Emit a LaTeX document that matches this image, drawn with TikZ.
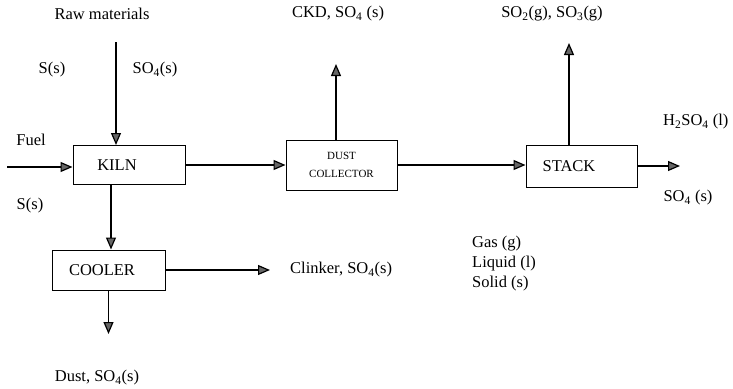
\documentclass[tikz,border=0pt]{standalone}
\usepackage{fontspec}
\setmainfont{Liberation Serif}
\usetikzlibrary{arrows.meta}
\begin{document}
\begin{tikzpicture}[x=1pt,y=-1pt,
  lbl/.style={font=\fontsize{16.5}{20}\selectfont, inner sep=0},
  unit/.style={draw, line width=1pt, inner sep=0, font=\fontsize{16.5}{20}\selectfont},
  flow/.style={line width=1.2pt, -{Triangle[length=12pt,width=10pt,fill=black!60]}}]
\useasboundingbox (0,0) rectangle (733,388);
% units
\node[unit, minimum width=112, minimum height=39, label={[lbl,xshift=-12]center:KILN}] (kiln) at (129,165) {};
\node[unit, minimum width=113, minimum height=40, label={[lbl,xshift=-6.5]center:COOLER}] (cooler) at (108.5,270) {};
\node[unit, minimum width=111, minimum height=50, align=center, font=\fontsize{11}{18}\selectfont] (dc) at (341.5,165) {DUST\\COLLECTOR};
\node[unit, minimum width=111, minimum height=42, label={[lbl,xshift=-12.5]center:STACK}] (stack) at (581.5,166) {};
% labels
\node[lbl] (raw) at (102,14) {Raw materials};
\node[lbl] (s1) at (52,70) {S(s)};
\node[lbl] (so4a) at (155,70) {SO\textsubscript{4}(s)};
\node[lbl] (fuel) at (31,140) {Fuel};
\node[lbl] (s2) at (30,206) {S(s)};
\node[lbl] (ckd) at (338,14) {CKD, SO\textsubscript{4} (s)};
\node[lbl] (so2) at (552,14) {SO\textsubscript{2}(g), SO\textsubscript{3}(g)};
\node[lbl, anchor=west] (h2so4) at (663,122) {H\textsubscript{2}SO\textsubscript{4} (l)};
\node[lbl] (so4s) at (688,198) {SO\textsubscript{4} (s)};
\node[lbl, anchor=west] (clinker) at (290,270) {Clinker, SO\textsubscript{4}(s)};
\node[lbl, anchor=west, align=left] (phases) at (472,264) {Gas (g)\\Liquid (l)\\Solid (s)};
\node[lbl] (dust) at (97,378) {Dust, SO\textsubscript{4}(s)};
% free ends
\coordinate (rawin) at (116,42);
\coordinate (fuelin) at (7,167);
\coordinate (clinkend) at (270,270);
\coordinate (dustend) at (108.5,334);
\coordinate (ckdend) at (336,64);
\coordinate (stkup) at (569,43);
\coordinate (stkout) at (680,166);
% connectors
\draw[flow] (rawin) -- (rawin |- kiln.north);
\draw[flow] (fuelin) -- (fuelin -| kiln.west);
\draw[flow] ([xshift=-18]kiln.south) -- ([xshift=-18]kiln.south |- cooler.north);
\draw[flow] (cooler.east) -- (clinkend);
\draw[flow] (cooler.south) -- (dustend);
\draw[flow] (kiln.east) -- (kiln.east -| dc.west);
\draw[flow] (ckdend |- dc.north) -- (ckdend);
\draw[flow] (dc.east) -- (dc.east -| stack.west);
\draw[flow] (stkup |- stack.north) -- (stkup);
\draw[flow] (stack.east) -- (stkout);
\end{tikzpicture}
\end{document}
